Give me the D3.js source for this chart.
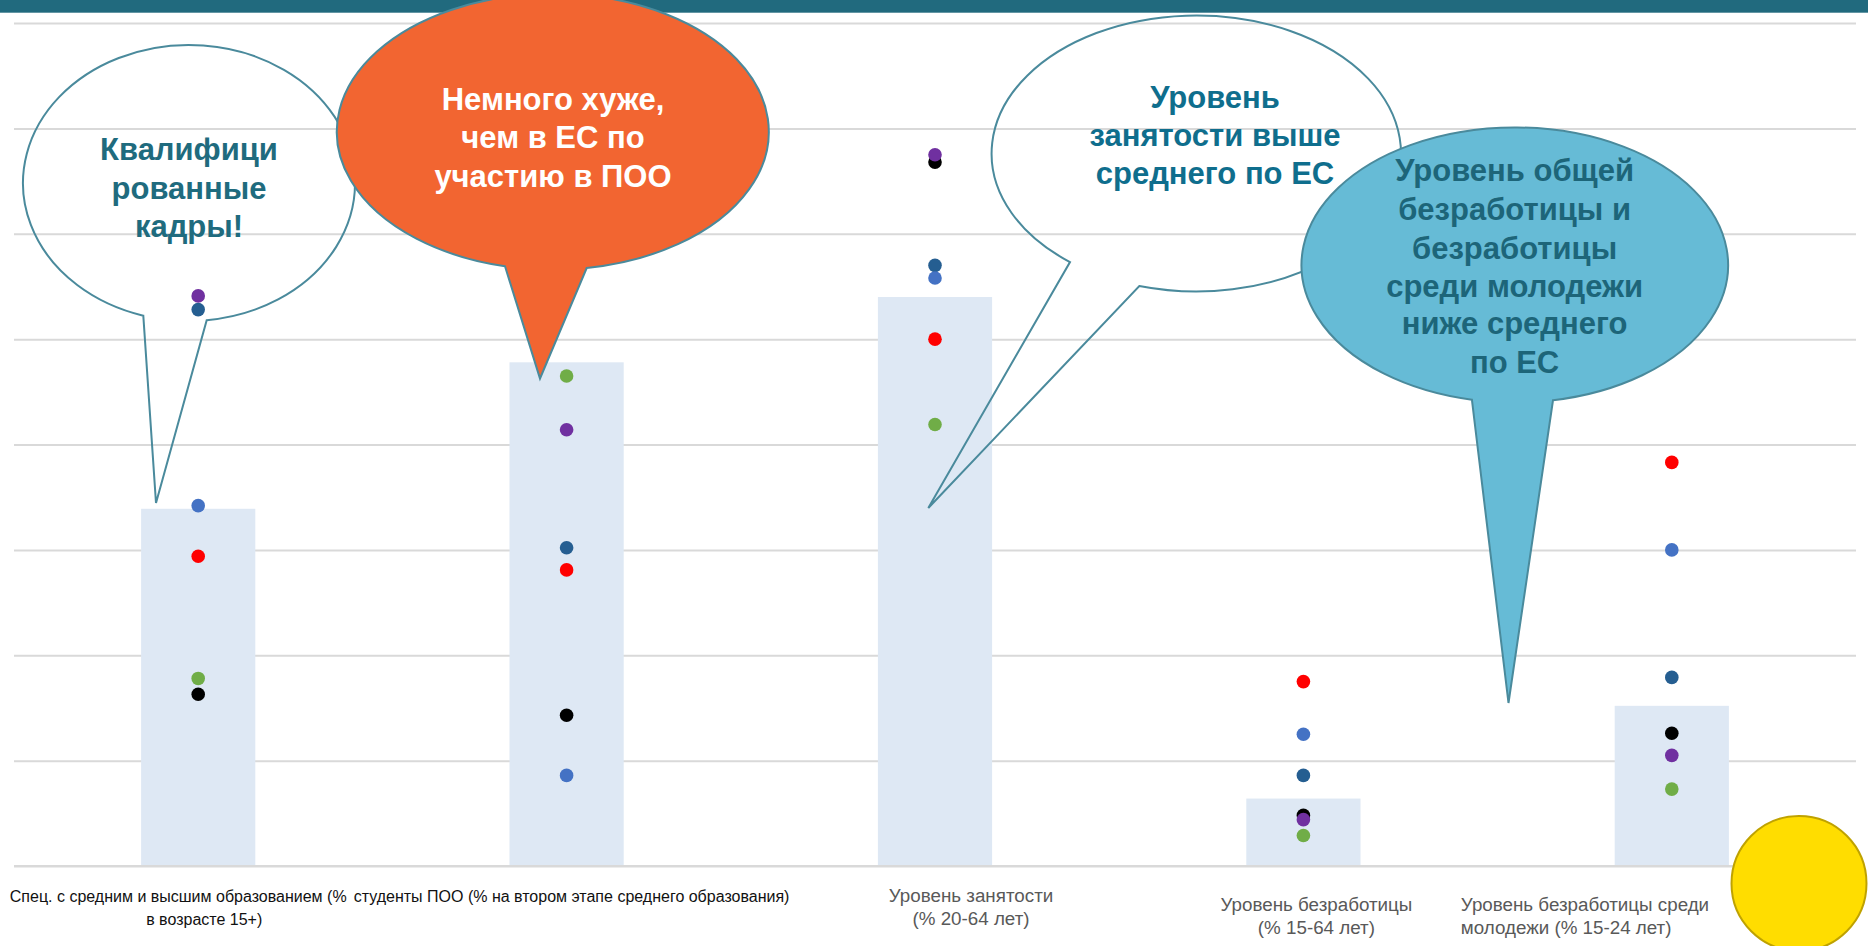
<!DOCTYPE html>
<html>
<head>
<meta charset="utf-8">
<script src="https://cdn.jsdelivr.net/npm/d3@7"></script>
<style>
  html, body { margin: 0; padding: 0; background: #fff; overflow: hidden; }
  svg { display: block; font-family: "Liberation Sans", Arial, sans-serif; }
</style>
</head>
<body>
<svg id="chart" width="1868" height="946"></svg>
<script>
// ---------------- DATA ----------------
const categories = ["edu", "voc", "emp", "unemp", "youth"];
const categoryLabels = [
  ["Спец. с средним и высшим образованием (%", "в возрасте 15+)"],
  ["студенты ПОО (% на втором этапе среднего образования)"],
  ["Уровень занятости", "(% 20-64 лет)"],
  ["Уровень безработицы", "(% 15-64 лет)"],
  ["Уровень безработицы среди", "молодежи (% 15-24 лет)"]
];
// bar = reference level (columns)
const barValues = [33.9, 47.8, 54.0, 6.4, 15.2];
// point series (dots), drawn in this order
const seriesBlack    = [16.3, 14.3, 66.8, 4.8, 12.6];
const seriesDarkBlue = [52.8, 30.2, 57.0, 8.6, 17.9];
const seriesBlue     = [34.2, 8.6, 55.8, 12.5, 30.0];
const seriesRed      = [29.4, 28.1, 50.0, 17.5, 38.3];
const seriesGreen    = [17.8, 46.5, 41.9, 2.9, 7.3];
const seriesPurple   = [54.1, 41.4, 67.5, 4.4, 10.5];
const yTicks = [0, 10, 20, 30, 40, 50, 60, 70, 80];

const bubbleTexts = [
  ["Квалифици", "рованные", "кадры!"],
  ["Немного хуже,", "чем в ЕС по", "участию в ПОО"],
  ["Уровень", "занятости выше", "среднего по ЕС"],
  ["Уровень общей", "безработицы и", "безработицы", "среди молодежи", "ниже среднего", "по ЕС"]
];

// ---------------- STYLE / LAYOUT ----------------
const series = [
  { values: seriesBlack,    color: "#000000" },
  { values: seriesDarkBlue, color: "#255E91" },
  { values: seriesBlue,     color: "#4472C4" },
  { values: seriesRed,      color: "#FF0000" },
  { values: seriesGreen,    color: "#70AD47" },
  { values: seriesPurple,   color: "#7030A0" }
];

const svg = d3.select("#chart");
const x = d3.scaleBand().domain(categories).range([14, 1856]).paddingInner(0.69).paddingOuter(0.345);
const y = d3.scaleLinear().domain([0, 80]).range([866, 23]);

// gridlines via axis
const gridAxis = d3.axisLeft(y).tickValues(yTicks).tickSize(-(1856 - 14)).tickFormat("");
const g = svg.append("g").attr("transform", "translate(14,0)").call(gridAxis);
g.select(".domain").remove();
g.selectAll(".tick line").attr("stroke", "#D9D9D9").attr("stroke-width", 2);

// bars
svg.append("g").selectAll("rect").data(barValues).join("rect")
  .attr("x", (d, i) => x(categories[i]))
  .attr("width", x.bandwidth())
  .attr("y", d => y(d))
  .attr("height", d => y(0) - y(d))
  .attr("fill", "#DEE8F4");

// baseline
svg.append("line").attr("x1", 14).attr("x2", 1856).attr("y1", y(0)).attr("y2", y(0))
  .attr("stroke", "#D9D9D9").attr("stroke-width", 2);

// dots
series.forEach(s => {
  svg.append("g").selectAll("circle").data(s.values).join("circle")
    .attr("cx", (d, i) => x(categories[i]) + x.bandwidth() / 2)
    .attr("cy", d => y(d))
    .attr("r", 6.8)
    .attr("fill", s.color);
});

// category labels
const cx = i => x(categories[i]) + x.bandwidth() / 2;
const labelSpecs = [
  { i: 0, dx: [-20, 6], anchor: "middle", ys: [902, 925], size: 16, color: "#111111" },
  { i: 1, dx: [5], anchor: "middle", ys: [902], size: 16, color: "#111111" },
  { i: 2, dx: [36, 36], anchor: "middle", ys: [902, 925], size: 18.8, color: "#595959" },
  { i: 3, dx: [13, 13], anchor: "middle", ys: [911, 934], size: 18.8, color: "#595959" },
  { i: 4, dx: [-211, -211], anchor: "start", ys: [911, 934], size: 18.8, color: "#595959" }
];
labelSpecs.forEach(sp => {
  categoryLabels[sp.i].forEach((t, k) => {
    svg.append("text").attr("x", cx(sp.i) + sp.dx[k]).attr("y", sp.ys[k])
      .attr("text-anchor", sp.anchor).attr("font-size", sp.size).attr("fill", sp.color).text(t);
  });
});

// header band
svg.append("rect").attr("x", 0).attr("y", 0).attr("width", 1868).attr("height", 12.7).attr("fill", "#216A7E");

// callout bubbles
function bubblePath(b) {
  const yOn = xx => b.cy + b.ry * Math.sqrt(Math.max(0, 1 - Math.pow((xx - b.cx) / b.rx, 2)));
  const r = [b.baseR, yOn(b.baseR)], l = [b.baseL, yOn(b.baseL)];
  return `M${r[0]},${r[1]} A${b.rx},${b.ry} 0 1 0 ${l[0]},${l[1]} L${b.tip[0]},${b.tip[1]} Z`;
}
const bubbles = [
  { cx: 189, cy: 183, rx: 166, ry: 138, baseL: 143.3, baseR: 206.7, tip: [156, 503],
    fill: "none", textColor: "#1F6B7E", tx: 189, ty: [160, 198.5, 237] },
  { cx: 552.8, cy: 131.7, rx: 216, ry: 138, baseL: 505, baseR: 586.7, tip: [540, 378.5],
    fill: "#F26531", textColor: "#FFFFFF", tx: 553, ty: [109.5, 148, 186.5] },
  { cx: 1196.3, cy: 153.5, rx: 204.7, ry: 138, baseL: 1070, baseR: 1139.3, tip: [928.3, 508],
    fill: "none", textColor: "#0F6E8D", tx: 1215, ty: [108, 146, 184] },
  { cx: 1514.8, cy: 265, rx: 213.3, ry: 137.5, baseL: 1471.9, baseR: 1553, tip: [1508.5, 703],
    fill: "#66BBD6", textColor: "#1D6579", tx: 1514.6, ty: [181.2, 219.9, 258.6, 296.5, 334, 372.7] }
];
bubbles.forEach((b, k) => {
  svg.append("path").attr("d", bubblePath(b)).attr("fill", b.fill)
    .attr("stroke", "#4A8A9C").attr("stroke-width", 2).attr("stroke-linejoin", "miter");
  bubbleTexts[k].forEach((t, j) => {
    svg.append("text").attr("x", b.tx).attr("y", b.ty[j]).attr("text-anchor", "middle")
      .attr("font-size", 31).attr("font-weight", "bold").attr("fill", b.textColor).text(t);
  });
});

// yellow circle
svg.append("circle").attr("cx", 1799).attr("cy", 883.5).attr("r", 67.5)
  .attr("fill", "#FFDD00").attr("stroke", "#BFA200").attr("stroke-width", 2);
</script>
</body>
</html>
